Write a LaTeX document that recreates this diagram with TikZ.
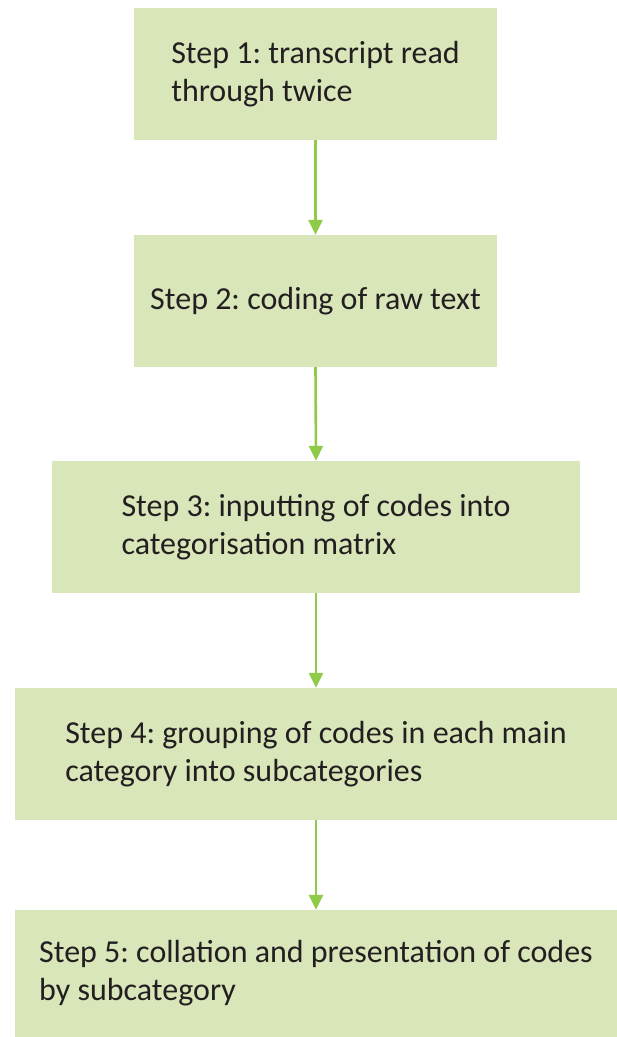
\documentclass[tikz,border=0pt]{standalone}
\usepackage{fontspec}
\setmainfont{Carlito}
\usetikzlibrary{arrows.meta}
\definecolor{boxfill}{HTML}{D8E6B9}
\definecolor{flowgreen}{HTML}{8FCB48}
\definecolor{inktext}{HTML}{231F20}
\tikzset{
  stepbox/.style={fill=boxfill, draw=none, align=left, inner sep=0pt,
    minimum height=132pt, text=inktext,
    font=\fontsize{32pt}{38pt}\selectfont},
  flow/.style={draw=flowgreen, line width=2.6pt,
    -{Triangle[width=14pt,length=15pt]}, shorten >=0pt}
}
\frenchspacing
\begin{document}
\begin{tikzpicture}[x=1pt,y=-1pt]
  \useasboundingbox (0,0) rectangle (617,1037);
  \node[stepbox, minimum width=363pt] (s1) at (315.5,74)
    {Step 1: transcript read\\through twice};
  \node[stepbox, minimum width=363pt] (s2) at (315.5,301)
    {Step 2: coding of raw text};
  \node[stepbox, minimum width=528pt] (s3) at (316,527)
    {Step 3: inputting of codes into\\categorisation matrix};
  \node[stepbox, minimum width=602pt] (s4) at (316,754)
    {Step 4: grouping of codes in each main\\category into subcategories};
  \node[stepbox, minimum width=602pt, minimum height=127pt] (s5) at (316,973.5)
    {Step 5: collation and presentation of codes\\by subcategory};
  \draw[flow] (s1.south) -- (s2.north);
  \draw[flow] (s2.south) -- (s3.north);
  \draw[flow] (s3.south) -- (s4.north);
  \draw[flow] (s4.south) -- (s5.north);
\end{tikzpicture}
\end{document}
